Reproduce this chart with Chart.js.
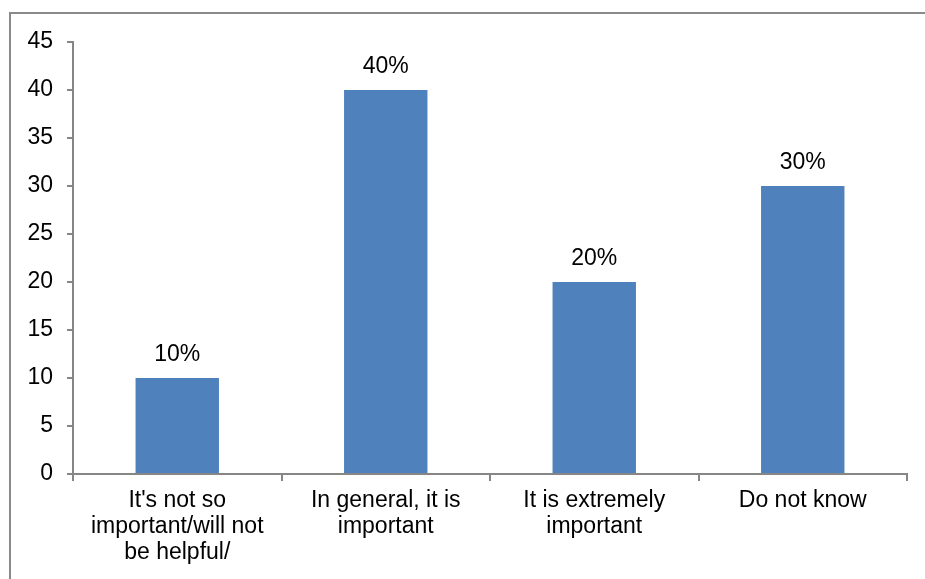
<!DOCTYPE html>
<html>
<head>
<meta charset="utf-8">
<script src="https://cdn.jsdelivr.net/npm/chart.js@4.4.1/dist/chart.umd.min.js"></script>
<style>
  html, body { margin: 0; padding: 0; background: #fff; overflow: hidden; }
  #wrap { position: relative; width: 925px; height: 579px; }
  #frame {
    position: absolute; left: 9px; top: 12px; width: 940px; height: 600px;
    border-left: 2px solid #8a8a8a; border-top: 2px solid #8a8a8a;
  }
  canvas { position: absolute; left: 0; top: 0; }
</style>
</head>
<body>
<div id="wrap">
  <div id="frame"></div>
  <canvas id="chart" width="925" height="579"></canvas>
</div>
<script>
const categories = [
  ["It's not so", "important/will not", "be helpful/"],
  ["In general, it is", "important"],
  ["It is extremely", "important"],
  ["Do not know"]
];
const percentValues = [10, 40, 20, 30];
const yTicks = [0, 5, 10, 15, 20, 25, 30, 35, 40, 45];

const axisGray = '#868686';
const fontFamily = '"Liberation Sans", Arial, sans-serif';
const fontSize = 23;

// value labels above each bar
const barLabels = {
  id: 'barLabels',
  afterDatasetsDraw(chart) {
    const ctx = chart.ctx;
    const meta = chart.getDatasetMeta(0);
    ctx.save();
    ctx.fillStyle = '#000';
    ctx.font = fontSize + 'px ' + fontFamily;
    ctx.textAlign = 'center';
    ctx.textBaseline = 'alphabetic';
    meta.data.forEach((bar, i) => {
      ctx.fillText(percentValues[i] + '%', bar.x, bar.y - 17);
    });
    ctx.restore();
  }
};

new Chart(document.getElementById('chart').getContext('2d'), {
  type: 'bar',
  data: {
    labels: categories,
    datasets: [{
      data: percentValues,
      backgroundColor: '#4f81bd',
      borderWidth: 0,
      categoryPercentage: 0.4,
      barPercentage: 1.0
    }]
  },
  options: {
    responsive: false,
    animation: false,
    layout: { padding: { top: 42, right: 18, left: 0, bottom: 0 } },
    plugins: {
      legend: { display: false },
      tooltip: { enabled: false }
    },
    scales: {
      x: {
        offset: true,
        grid: {
          offset: true,
          drawOnChartArea: false,
          drawTicks: true,
          tickLength: 7,
          color: axisGray,
          lineWidth: 2
        },
        border: { color: axisGray, width: 2 },
        ticks: {
          color: '#000',
          font: { family: fontFamily, size: fontSize, lineHeight: 1.13 },
          padding: 7,
          maxRotation: 0,
          autoSkip: false
        },
        afterFit(scale) { scale.height = 105; }
      },
      y: {
        min: 0,
        max: 45,
        afterBuildTicks(scale) { scale.ticks = yTicks.map(v => ({ value: v })); },
        grid: {
          drawOnChartArea: false,
          drawTicks: true,
          tickLength: 6,
          color: axisGray,
          lineWidth: 2
        },
        border: { color: axisGray, width: 2 },
        ticks: {
          color: '#000',
          font: { family: fontFamily, size: fontSize },
          padding: 14
        },
        afterFit(scale) { scale.width = 73; }
      }
    }
  },
  plugins: [barLabels]
});
</script>
</body>
</html>
